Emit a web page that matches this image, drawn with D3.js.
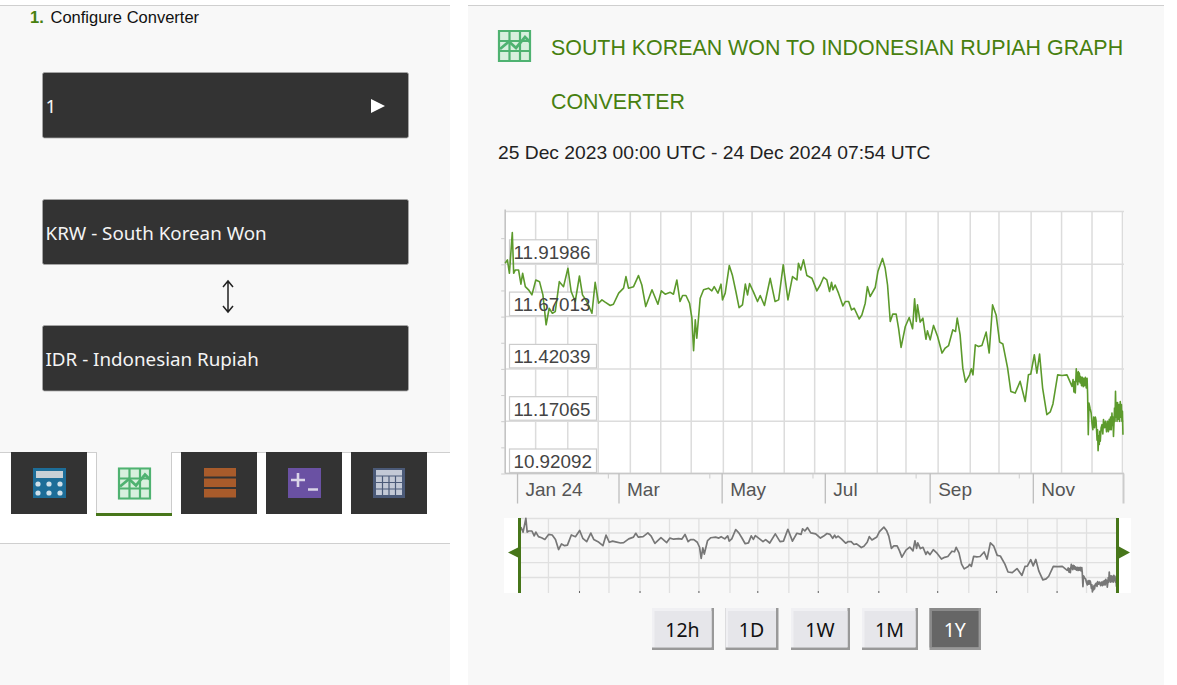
<!DOCTYPE html>
<html>
<head>
<meta charset="utf-8">
<title>KRW to IDR graph</title>
<script src="https://cdn.jsdelivr.net/npm/d3@7"></script>
<style>
    html, body { margin: 0; padding: 0; background: #fff; }
    svg { display: block; }
    text { font-family: "Liberation Sans", Arial, sans-serif; }
</style>
</head>
<body>
<div id="chart"></div>
<script>
// Days since 25 Dec 2023
const rateDays = [
    0, 1.3, 2.5, 4.2, 5, 6, 7.9, 9.3, 10.3, 11.9,
    13.8, 15.8, 18.1, 20.3, 22.3, 24.2, 26, 27.9, 29.6, 32,
    34.5, 37.1, 39, 41.4, 43.9, 45.7, 48.3, 51.3, 53.2, 55.2,
    57.2, 59.1, 62.1, 64, 67.1, 70, 71.4, 72.9, 75.9, 78.8,
    80.8, 83.1, 86.8, 90.3, 92.3, 94.6, 97.6, 99.5, 101.5, 103.4,
    104.9, 106.9, 109, 110.4, 111.4, 112.4, 113.3, 115.3, 117.3, 120.2,
    122.2, 123.6, 125.8, 127.6, 128.5, 130.1, 132.5, 134.4, 136.4, 138.3,
    140.3, 142, 143.3, 144.5, 146.9, 149.2, 150.8, 153.3, 156.7, 159.6,
    161.7, 164.4, 167.2, 169.9, 172.5, 173.4, 174.8, 176.4, 178.4, 181.4,
    184.3, 186.3, 188.3, 190.2, 191.8, 193, 193.8, 195.1, 197.1, 199.7,
    201.1, 203.1, 204.8, 206.4, 209.3, 210.9, 212.9, 214.2, 215.8, 218.8,
    220.4, 223.1, 224.7, 226.1, 227.7, 229.2, 231.2, 232.6, 234.1, 236.6,
    238.9, 240.9, 242.1, 243.1, 243.8, 245.4, 247, 248.8, 249.7, 251.3,
    253.3, 255.7, 258.3, 260.2, 262.2, 264.7, 266.3, 267.3, 269, 270.6,
    272.2, 274.6, 275.6, 276.6, 278, 279.9, 281.9, 284.4, 286.2, 288.2,
    290.3, 292.4, 294.3, 297.1, 299, 301.6, 304.5, 307.5, 309.4, 310.8,
    312.9, 314.4, 316, 317.8, 320.3, 322.3, 323.9, 326.7, 329.3, 332.2,
    335.2, 335.8, 336.3, 336.8, 337.1, 337.7, 338, 338.3, 338.6, 338.9,
    339.2, 339.5, 340, 340.3, 340.8, 341.3, 341.8, 342.2, 342.6, 343.1,
    343.6, 344.1, 344.4, 344.8, 345.2, 345.9, 346.5, 347, 347.5, 348,
    348.5, 349, 349.4, 350, 350.3, 350.6, 351, 351.3, 351.6, 351.9,
    352.4, 352.9, 353.4, 353.8, 354.4, 355, 355.6, 356.2, 356.7, 357.2,
    357.6, 358, 358.4, 358.8, 359.1, 359.4, 359.7, 360, 360.3, 360.6,
    360.9, 361.2, 361.5, 361.8, 362.1, 362.5, 362.9, 363.3, 363.7, 364,
    364.4, 364.7, 365, 365.3
];
const rateValues = [
    11.925, 11.941, 11.877, 12.072, 11.877, 11.893, 11.893, 11.825, 11.877, 11.813,
    11.798, 11.774, 11.845, 11.837, 11.774, 11.631, 11.710, 11.686, 11.694, 11.837,
    11.813, 11.901, 11.790, 11.742, 11.864, 11.774, 11.742, 11.686, 11.834, 11.734,
    11.750, 11.739, 11.723, 11.729, 11.782, 11.806, 11.861, 11.806, 11.813, 11.866,
    11.821, 11.718, 11.798, 11.729, 11.793, 11.777, 11.786, 11.777, 11.845, 11.742,
    11.771, 11.771, 11.734, 11.663, 11.507, 11.655, 11.567, 11.758, 11.798, 11.806,
    11.793, 11.813, 11.782, 11.825, 11.750, 11.782, 11.914, 11.866, 11.790, 11.713,
    11.726, 11.825, 11.774, 11.828, 11.786, 11.742, 11.771, 11.723, 11.853, 11.742,
    11.750, 11.917, 11.750, 11.861, 11.845, 11.925, 11.893, 11.941, 11.866, 11.853,
    11.793, 11.821, 11.858, 11.845, 11.790, 11.834, 11.798, 11.821, 11.782, 11.721,
    11.742, 11.742, 11.702, 11.710, 11.659, 11.678, 11.734, 11.813, 11.766, 11.809,
    11.885, 11.948, 11.901, 11.821, 11.647, 11.682, 11.682, 11.615, 11.523, 11.623,
    11.666, 11.612, 11.755, 11.647, 11.726, 11.644, 11.663, 11.562, 11.602, 11.559,
    11.628, 11.575, 11.496, 11.520, 11.532, 11.607, 11.599, 11.663, 11.583, 11.424,
    11.357, 11.392, 11.421, 11.392, 11.535, 11.527, 11.532, 11.596, 11.496, 11.726,
    11.678, 11.548, 11.539, 11.424, 11.313, 11.305, 11.361, 11.265, 11.392, 11.396,
    11.488, 11.400, 11.491, 11.329, 11.202, 11.215, 11.253, 11.392, 11.389, 11.392,
    11.337, 11.37, 11.31, 11.36, 11.305, 11.421, 11.36, 11.40, 11.345, 11.408,
    11.36, 11.40, 11.353, 11.384, 11.34, 11.38, 11.335, 11.375, 11.34, 11.38,
    11.33, 11.375, 11.30, 11.106, 11.257, 11.23, 11.21, 11.16, 11.13, 11.19,
    11.14, 11.19, 11.173, 11.08, 11.13, 11.03, 11.10, 11.06, 11.122, 11.075,
    11.14, 11.154, 11.11, 11.178, 11.14, 11.17, 11.12, 11.17, 11.12, 11.18,
    11.13, 11.19, 11.13, 11.21, 11.15, 11.19, 11.098, 11.16, 11.234, 11.17,
    11.313, 11.19, 11.26, 11.17, 11.26, 11.18, 11.25, 11.17, 11.265, 11.19,
    11.25, 11.17, 11.218, 11.106
];

const yTicks = [11.91986, 11.67013, 11.42039, 11.17065, 10.92092];
const yMinorTicks = [12.04473, 11.795, 11.54526, 11.29552, 11.04579];
const navGridValues = [11.865, 11.655, 11.445, 11.235];

const monthDates = ['2024-01-01', '2024-03-01', '2024-05-01', '2024-07-01', '2024-09-01', '2024-11-01'];
const monthLabels = ['Jan 24', 'Mar', 'May', 'Jul', 'Sep', 'Nov'];
const minorDates = ['2024-02-24', '2024-04-24', '2024-06-24', '2024-08-24', '2024-10-24'];
const gridDates = [
    '2024-01-12', '2024-01-31', '2024-02-18', '2024-03-08', '2024-03-26',
    '2024-04-13', '2024-05-02', '2024-05-19', '2024-06-07', '2024-06-25',
    '2024-07-13', '2024-08-01', '2024-08-18', '2024-09-06', '2024-09-25',
    '2024-10-12', '2024-10-31', '2024-11-18', '2024-12-06', '2024-12-24'
];
const navTickDates = ['2024-01-31', '2024-03-08', '2024-04-13', '2024-05-19', '2024-06-25', '2024-08-01', '2024-09-06', '2024-10-12', '2024-11-18'];
const rangeButtons = ['12h', '1D', '1W', '1M', '1Y'];

const startDate = new Date(Date.UTC(2023, 11, 25));
const endDate = new Date(Date.UTC(2024, 11, 24, 7, 54));
const utc = s => new Date(s + 'T00:00:00Z');
const series = d3.zip(rateDays, rateValues).map(([day, value]) => ({
    date: new Date(+startDate + day * 864e5),
    value
}));

const svg = d3.select('#chart').append('svg').attr('width', 1177).attr('height', 685);

// Page panels
const panelBg = '#f8f8f8';
const ruleColor = '#cfcfcf';
svg.append('rect').attr('x', 0).attr('y', 5).attr('width', 450).attr('height', 680).attr('fill', panelBg);
svg.append('rect').attr('x', 468).attr('y', 5).attr('width', 696).attr('height', 680).attr('fill', panelBg);
svg.append('rect').attr('x', 0).attr('y', 452).attr('width', 450).attr('height', 91).attr('fill', '#fff');
[[0, 450, 5.5], [468, 1164, 5.5], [0, 450, 452.5], [0, 450, 543.5]].forEach(([x1, x2, y]) => {
    svg.append('line').attr('x1', x1).attr('x2', x2).attr('y1', y).attr('y2', y).attr('stroke', ruleColor);
});

// Left column: converter form
const heading = svg.append('text').attr('x', 30).attr('y', 22.5).attr('font-size', 16.5).attr('fill', '#111');
heading.append('tspan').attr('font-weight', 'bold').attr('fill', '#47800f').text('1.');
heading.append('tspan').attr('x', 50.5).text('Configure Converter');

const fields = [
    { y: 72.5, h: 65.5, label: '1' },
    { y: 199.5, h: 65, label: 'KRW - South Korean Won' },
    { y: 325.5, h: 65.5, label: 'IDR - Indonesian Rupiah' }
];
fields.forEach(f => {
    svg.append('rect').attr('x', 42.5).attr('y', f.y).attr('width', 366).attr('height', f.h)
        .attr('rx', 2).attr('fill', '#333').attr('stroke', '#aaa').attr('stroke-width', 0.8);
    svg.append('text').attr('x', 45.5).attr('y', f.y + f.h / 2 + 7.5)
        .attr('font-size', 18.8).attr('fill', '#f4f4f4').style('font-family', '"Noto Sans", sans-serif').text(f.label);
});
svg.append('path').attr('d', 'M371,99L385,106L371,113Z').attr('fill', '#fff');
svg.append('path').attr('d', 'M228,281V312M223,287L228,281L233,287M223,306L228,312L233,306')
    .attr('fill', 'none').attr('stroke', '#222').attr('stroke-width', 1.5);

// Tabs
const tabs = [11, 97, 181, 266, 351];
tabs.forEach((x, i) => {
    if (i === 1) {
        svg.append('rect').attr('x', 97).attr('y', 452).attr('width', 74).attr('height', 62).attr('fill', panelBg);
        svg.append('path').attr('d', 'M96.5,453V514M171.5,453V514').attr('stroke', '#ccc').attr('fill', 'none');
        svg.append('rect').attr('x', 96).attr('y', 513).attr('width', 76).attr('height', 3).attr('fill', '#47761a');
    } else {
        svg.append('rect').attr('x', x).attr('y', 452).attr('width', 76).attr('height', 62).attr('fill', '#333');
    }
});

function chartIcon(x, y) {
    const g = svg.append('g').attr('transform', `translate(${x},${y})`);
    g.append('rect').attr('width', 33).attr('height', 32).attr('fill', '#d8f0de');
    g.append('path').attr('d', 'M1,1H32V31H1ZM11.5,1V31M22,1V31M1,11H32M1,21H32')
        .attr('fill', 'none').attr('stroke', '#4fb271').attr('stroke-width', 2.2);
    g.append('path').attr('d', 'M2,19L11,11.5L18,18L27,7L32,12').attr('fill', 'none').attr('stroke', '#4fb271').attr('stroke-width', 2.8);
}
chartIcon(118, 467.5);
chartIcon(498, 30);

// calculator
svg.append('rect').attr('x', 33).attr('y', 468).attr('width', 33).attr('height', 30).attr('fill', '#1d6d98');
svg.append('rect').attr('x', 36).attr('y', 471).attr('width', 27).attr('height', 7).attr('fill', '#c8d0d6');
[38, 49, 60].forEach(cx => [484, 493].forEach(cy => {
    svg.append('circle').attr('cx', cx).attr('cy', cy).attr('r', 2.6).attr('fill', '#cfe0ea');
}));
// stacked bars
[468, 478.5, 489].forEach(y => {
    svg.append('rect').attr('x', 204).attr('y', y).attr('width', 32).attr('height', 8.5).attr('fill', '#a85b2b');
});
// plus minus
svg.append('rect').attr('x', 288).attr('y', 468).attr('width', 33).attr('height', 30).attr('fill', '#6a51a3');
svg.append('path').attr('d', 'M291,480H305M298,473V487M308,489.5H318').attr('stroke', '#d9d4e8').attr('stroke-width', 2.6).attr('fill', 'none');
// calendar
svg.append('rect').attr('x', 373).attr('y', 468).attr('width', 32).attr('height', 30).attr('fill', '#4b5a78');
svg.append('rect').attr('x', 376).attr('y', 470).attr('width', 26).attr('height', 25).attr('fill', '#c3c9d6');
svg.append('path').attr('d', 'M376,476H402M376,482.5H402M376,489H402M382.5,476V495M389,476V495M395.5,476V495')
    .attr('stroke', '#4b5a78').attr('stroke-width', 1.2);

// Right column: title
const titleColor = '#47800f';
svg.append('text').attr('x', 551).attr('y', 54.5).attr('font-size', 21.4).attr('fill', titleColor)
    .text('SOUTH KOREAN WON TO INDONESIAN RUPIAH GRAPH');
svg.append('text').attr('x', 551).attr('y', 108.5).attr('font-size', 21.4).attr('fill', titleColor).text('CONVERTER');
svg.append('text').attr('x', 498).attr('y', 158.5).attr('font-size', 19.25).attr('fill', '#222')
    .text('25 Dec 2023 00:00 UTC - 24 Dec 2024 07:54 UTC');

// Main chart
const plotLeft = 505.2, plotRight = 1123, plotTop = 211.5, plotBottom = 473.5;
const gridColor = '#dcdcdc';
const x = d3.scaleUtc().domain([startDate, endDate]).range([plotLeft, plotRight]);
const y = d3.scaleLinear().domain([yTicks[0], yTicks[4]]).range([264.3, plotBottom]);

svg.append('rect').attr('x', plotLeft).attr('y', plotTop).attr('width', plotRight - plotLeft + 1)
    .attr('height', plotBottom - plotTop).attr('fill', '#fff');

const main = svg.append('g');
main.append('g').selectAll('line').data(gridDates).join('line')
    .attr('x1', d => x(utc(d))).attr('x2', d => x(utc(d)))
    .attr('y1', plotTop).attr('y2', plotBottom)
    .attr('stroke', gridColor).attr('stroke-width', 1.5);
main.append('g').selectAll('line').data(yTicks).join('line')
    .attr('x1', plotLeft).attr('x2', plotRight + 1)
    .attr('y1', d => y(d)).attr('y2', d => y(d))
    .attr('stroke', gridColor).attr('stroke-width', 1.5);
main.append('path').attr('d', `M${plotLeft},${plotTop}H${plotRight + 1}`).attr('stroke', gridColor).attr('stroke-width', 1.5);

// minor ticks on the left edge
const yAxis = d3.axisLeft(y).tickValues(yMinorTicks.concat(yTicks)).tickSize(4).tickFormat('');
main.append('g').attr('transform', `translate(${plotLeft},0)`).call(yAxis)
    .call(g => g.select('.domain').attr('stroke', '#c4c4c4').attr('stroke-width', 1.6).attr('d', `M0,${plotTop - 2}V${plotBottom}`))
    .call(g => g.selectAll('.tick line').attr('stroke', '#ccc'));

// y label boxes sit under the line, the numbers over it
main.append('g').selectAll('rect').data(yTicks).join('rect')
    .attr('x', 509.5).attr('width', 87).attr('y', d => y(d) - 24.5).attr('height', 23.5)
    .attr('fill', '#fff').attr('stroke', '#ccc').attr('stroke-width', 1.2);

const line = d3.line().x(d => x(d.date)).y(d => y(d.value));
main.append('path').datum(series).attr('d', line)
    .attr('fill', 'none').attr('stroke', '#5c9a2c').attr('stroke-width', 1.6).attr('stroke-linejoin', 'round');

main.append('g').selectAll('text').data(yTicks).join('text')
    .attr('x', 513.5).attr('y', d => y(d) - 5.5)
    .attr('font-size', 18.8).attr('fill', '#444')
    .text(d => d3.format('.5f')(d));

// x axis with month ticks
const xAxis = d3.axisBottom(x).tickValues(monthDates.map(utc)).tickSize(30).tickPadding(0)
    .tickFormat((d, i) => monthLabels[i]);
main.append('g').attr('transform', `translate(0,${plotBottom})`).call(xAxis)
    .call(g => g.select('.domain').attr('stroke', '#c8c8c8').attr('stroke-width', 1.6).attr('d', `M${plotLeft},0H${plotRight + 1}`))
    .call(g => g.selectAll('.tick line').attr('stroke', '#bdbdbd').attr('stroke-width', 1.3))
    .call(g => g.selectAll('.tick text')
        .attr('x', 8).attr('y', 22.5).attr('dy', 0)
        .attr('text-anchor', 'start')
        .attr('font-size', 19).attr('fill', '#555')
        .style('font-family', '"Liberation Sans", Arial, sans-serif'));
main.append('g').selectAll('line').data(minorDates).join('line')
    .attr('x1', d => x(utc(d))).attr('x2', d => x(utc(d)))
    .attr('y1', plotBottom).attr('y2', plotBottom + 5)
    .attr('stroke', '#ccc');
main.append('path').attr('d', `M${plotRight + 0.5},${plotBottom}V${plotBottom + 30}`)
    .attr('stroke', '#ccc').attr('stroke-width', 2);

// Navigator
const navTop = 518, navBottom = 593, navLeft = 519, navRight = 1117.5;
const navX = d3.scaleUtc().domain([startDate, endDate]).range([navLeft, navRight - 1]);
const navY = d3.scaleLinear().domain([12.07, 11.03]).range([518.5, 592]);
const nav = svg.append('g');
nav.append('rect').attr('x', 504).attr('y', navTop).attr('width', 627).attr('height', navBottom - navTop).attr('fill', '#fff');
nav.append('rect').attr('x', navLeft).attr('y', navTop).attr('width', navRight - navLeft).attr('height', navBottom - navTop).attr('fill', panelBg);
nav.append('g').selectAll('line').data(gridDates.slice(0, -1)).join('line')
    .attr('x1', d => navX(utc(d))).attr('x2', d => navX(utc(d)))
    .attr('y1', navTop).attr('y2', navBottom)
    .attr('stroke', '#e0e0e0').attr('stroke-width', 1.3);
nav.append('g').selectAll('line').data(navGridValues).join('line')
    .attr('x1', navLeft).attr('x2', navRight)
    .attr('y1', d => navY(d)).attr('y2', d => navY(d))
    .attr('stroke', '#e0e0e0').attr('stroke-width', 1.3);
nav.append('path').attr('d', `M${navLeft},518.5H${navRight}`).attr('stroke', '#e0e0e0').attr('stroke-width', 1.3);
nav.append('g').selectAll('line').data(navTickDates).join('line')
    .attr('x1', d => navX(utc(d))).attr('x2', d => navX(utc(d)))
    .attr('y1', navBottom - 2).attr('y2', navBottom)
    .attr('stroke', '#666');
const navLine = d3.line().x(d => navX(d.date)).y(d => navY(d.value));
nav.append('path').datum(series).attr('d', navLine)
    .attr('fill', 'none').attr('stroke', '#777').attr('stroke-width', 1.7).attr('stroke-linejoin', 'round');

// Handles
const handleColor = '#47761a';
nav.append('rect').attr('x', 518).attr('y', navTop).attr('width', 3).attr('height', navBottom - navTop).attr('fill', handleColor);
nav.append('rect').attr('x', 1116).attr('y', navTop).attr('width', 3).attr('height', navBottom - navTop).attr('fill', handleColor);
nav.append('path').attr('d', 'M508,552.5L521,546V559Z').attr('fill', handleColor);
nav.append('path').attr('d', 'M1130,552.5L1118,546V559Z').attr('fill', handleColor);

// Range buttons
const buttonX = [652, 725.5, 791, 862, 929.5];
const buttonW = [62, 53, 59, 56, 51.5];
rangeButtons.forEach((label, i) => {
    const active = label === '1Y';
    const bx = buttonX[i], bw = buttonW[i];
    svg.append('rect').attr('x', bx).attr('y', 608).attr('width', bw).attr('height', 42).attr('fill', '#999');
    svg.append('rect').attr('x', bx).attr('y', 608).attr('width', bw - 2.5).attr('height', 39.5)
        .attr('fill', active ? '#8a8a8a' : '#f0f0f3');
    svg.append('rect').attr('x', bx + 2.5).attr('y', 611).attr('width', bw - 5).attr('height', 36)
        .attr('fill', active ? '#666' : '#e6e6ea');
    svg.append('text').attr('x', bx + bw / 2 - 0.5).attr('y', 636.5).attr('text-anchor', 'middle')
        .attr('font-size', 19.5).attr('fill', active ? '#fff' : '#111')
        .style('font-family', '"Noto Sans", sans-serif').text(label);
});
</script>
</body>
</html>
